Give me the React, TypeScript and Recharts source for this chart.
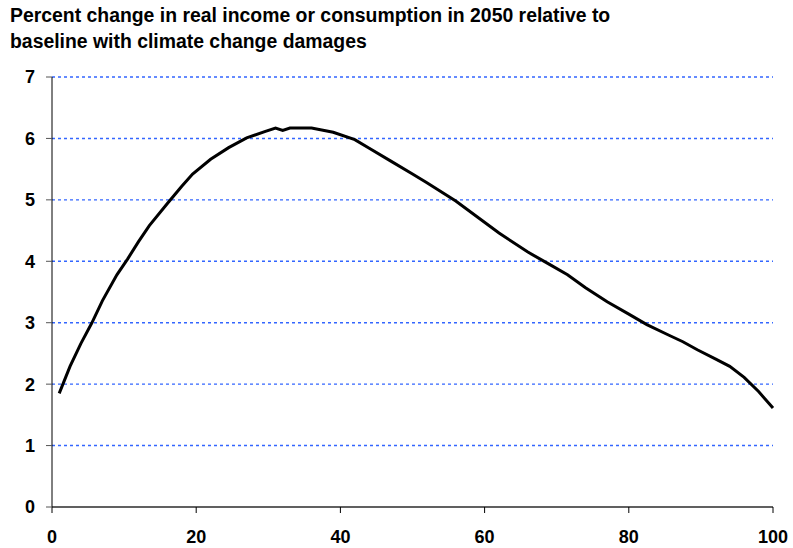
import React from "react";
import { LineChart, Line, XAxis, YAxis, CartesianGrid } from "recharts";

const titleLines = [
  "Percent change in real income or consumption in 2050 relative to",
  "baseline with climate change damages",
];

const xValues = [
  1, 2.5, 4, 5.5, 7, 9, 10.5, 12, 13.5, 16, 18, 19.5, 22, 24.5, 27, 29.5, 31, 32, 33, 36,
  39, 42, 44, 47, 50, 52, 56, 59, 62, 66, 69, 71.5, 74, 77, 80, 82.5, 85.5, 87.5, 89.5, 92,
  94, 96, 98, 100,
];

const percentChange = [
  1.85, 2.29, 2.66, 2.99, 3.36, 3.78, 4.04, 4.32, 4.58, 4.94, 5.22, 5.42, 5.66, 5.85, 6.01,
  6.11, 6.17, 6.13, 6.17, 6.17, 6.1, 5.98, 5.84, 5.63, 5.42, 5.28, 4.98, 4.72, 4.46, 4.15,
  3.95, 3.78, 3.57, 3.34, 3.14, 2.97, 2.8, 2.69, 2.56, 2.41, 2.29, 2.11, 1.88, 1.61,
];

const xTicks = [0, 20, 40, 60, 80, 100];
const yTicks = [0, 1, 2, 3, 4, 5, 6, 7];

const data = xValues.map((x, i) => ({ x, value: percentChange[i] }));

const FONT = '"Liberation Sans", Arial, sans-serif';

export default function App() {
  return (
    <div style={{ position: "absolute", left: 0, top: 0, width: 793, height: 548, background: "#fff" }}>
      <div
        style={{
          position: "absolute",
          left: 10,
          top: 2,
          fontFamily: FONT,
          fontWeight: "bold",
          fontSize: 19.4,
          lineHeight: "26px",
          color: "#000",
          whiteSpace: "nowrap",
        }}
      >
        {titleLines[0]}
        <br />
        {titleLines[1]}
      </div>
      <LineChart
        width={793}
        height={548}
        data={data}
        margin={{ top: 77, right: 20, bottom: 0, left: 0 }}
      >
        <CartesianGrid
          horizontal={true}
          vertical={false}
          stroke="#3366ff"
          strokeWidth={1.4}
          strokeDasharray="3 3"
        />
        <XAxis
          dataKey="x"
          type="number"
          domain={[0, 100]}
          ticks={xTicks}
          height={41}
          tickSize={6}
          tickMargin={17}
          axisLine={{ stroke: "#606060", strokeWidth: 2 }}
          tickLine={{ stroke: "#000" }}
          tick={{ fill: "#000", fontSize: 18, fontWeight: "bold", fontFamily: FONT }}
          interval={0}
        />
        <YAxis
          type="number"
          domain={[0, 7]}
          ticks={yTicks}
          width={52}
          tickSize={6}
          tickMargin={11}
          axisLine={{ stroke: "#000", strokeWidth: 1 }}
          tickLine={{ stroke: "#555" }}
          tick={{ fill: "#000", fontSize: 18, fontWeight: "bold", fontFamily: FONT }}
          interval={0}
        />
        <Line
          type="linear"
          dataKey="value"
          stroke="#000"
          strokeWidth={3}
          dot={false}
          isAnimationActive={false}
        />
      </LineChart>
    </div>
  );
}
